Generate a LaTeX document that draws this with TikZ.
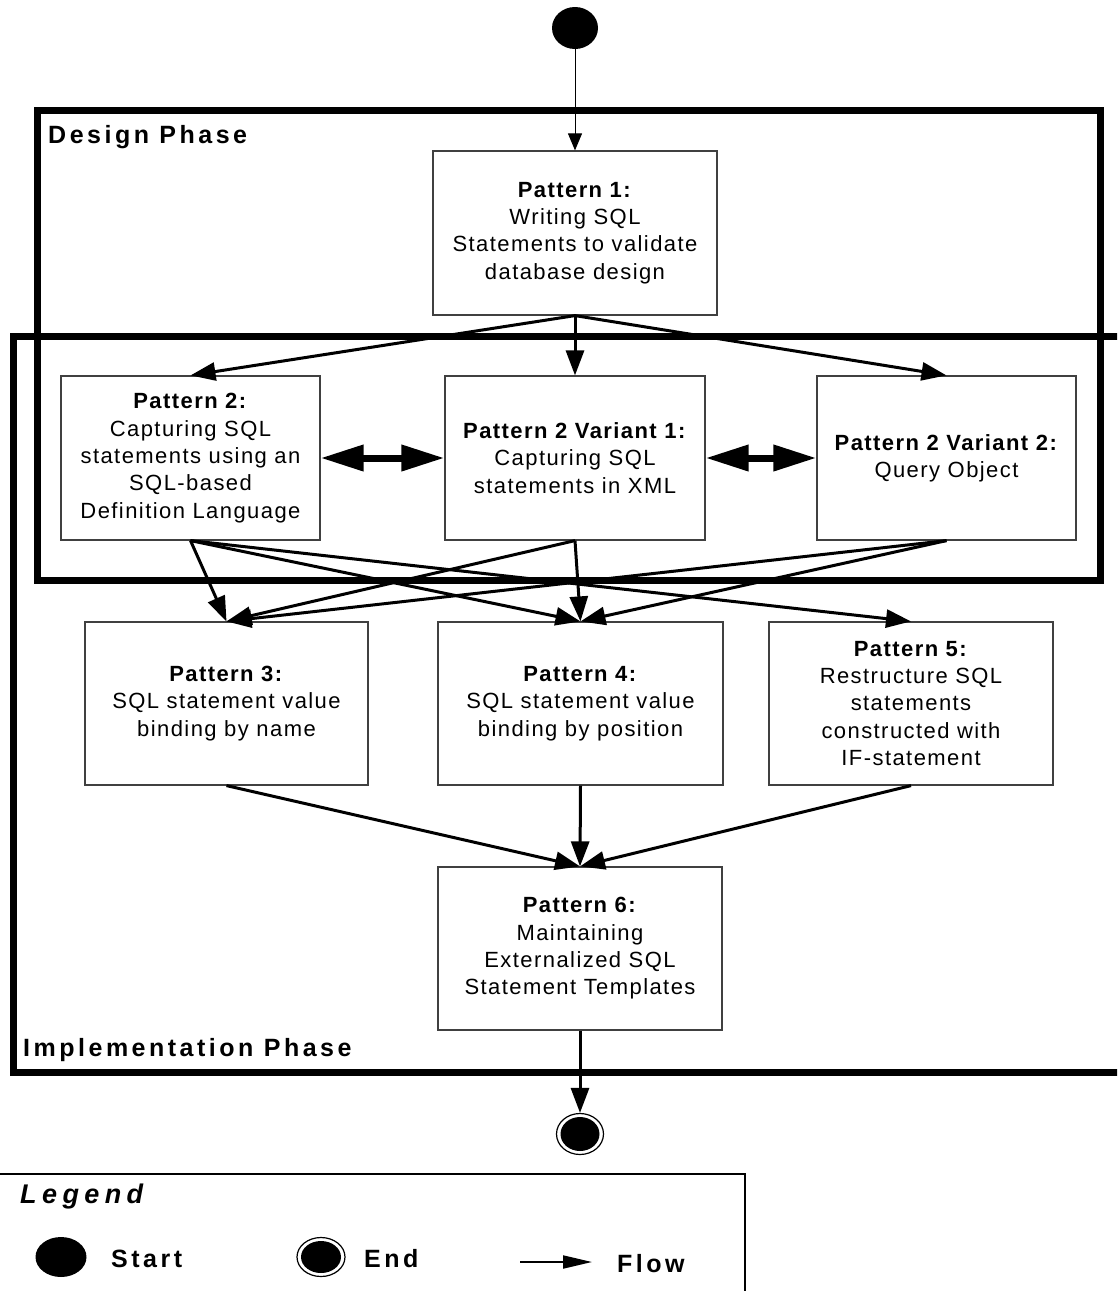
\documentclass[tikz,border=0pt]{standalone}
\usepackage{fontspec}
\setmainfont{Liberation Sans}[LetterSpace=6.5]
\usetikzlibrary{arrows.meta,shapes.geometric}
\begin{document}
\begin{tikzpicture}[x=1pt,y=-1pt,
  pbox/.style={draw=black!75, line width=1.2pt, fill=white, minimum width=#1, minimum height=164pt,
    inner sep=0pt, align=center, font=\fontsize{22}{27.3}\selectfont},
  phaserect/.style={draw=black, line width=7pt},
  phaselabel/.style={anchor=base west, inner sep=0pt, font=\bfseries\fontsize{25}{28}\selectfont\addfontfeature{LetterSpace=14}},
  flowarrow/.style={draw=black, line width=3pt, -{Triangle[length=25pt,width=18pt]}},
  dblarrow/.style={draw=black, line width=7pt, {Triangle[length=43pt,width=25pt]}-{Triangle[length=43pt,width=25pt]}},
  legendtext/.style={anchor=base west, inner sep=0pt, font=\bfseries\fontsize{25}{28}\selectfont\addfontfeature{LetterSpace=14}}
]
\useasboundingbox (0,0) rectangle (1117,1291);
\clip (0,0) rectangle (1117,1291);

% phase frames
\draw[phaserect] (37.5,110) rectangle (1100.5,580);
\draw[phaserect] (13.5,336) rectangle (1140,1072);
\node[phaselabel] (designlbl) at (48,143) {Design Phase};
\node[phaselabel] (impllbl) at (23,1056) {Implementation Phase};

% start / end
\node[ellipse, fill=black, minimum width=46pt, minimum height=42pt, inner sep=0pt] (start) at (575,28) {};
\node[ellipse, draw=black, line width=1.2pt, fill=white, minimum width=47pt, minimum height=41pt, inner sep=0pt] (end) at (580,1134) {};
\fill[black] (end.center) ellipse [x radius=19.5, y radius=17];

% pattern boxes
\node[pbox=284pt] (p1) at (575,233) {\textbf{Pattern 1:}\\Writing SQL\\Statements to validate\\database design};
\node[pbox=259pt] (p2) at (190.5,458) {\textbf{Pattern 2:}\\Capturing SQL\\statements using an\\SQL-based\\Definition Language};
\node[pbox=260pt] (p2a) at (575,458) {\textbf{Pattern 2 Variant 1:}\\Capturing SQL\\statements in XML};
\node[pbox=259pt] (p2b) at (946.5,458) {\textbf{Pattern 2 Variant 2:}\\Query Object};
\node[pbox=283pt, minimum height=163pt] (p3) at (226.5,703.5) {\textbf{Pattern 3:}\\SQL statement value\\binding by name};
\node[pbox=285pt, minimum height=163pt] (p4) at (580.5,703.5) {\textbf{Pattern 4:}\\SQL statement value\\binding by position};
\node[pbox=284pt, minimum height=163pt] (p5) at (911,703.5) {\textbf{Pattern 5:}\\Restructure SQL\\statements\\constructed with\\IF-statement};
\node[pbox=284pt, minimum height=163pt] (p6) at (580,948.5) {\textbf{Pattern 6:}\\Maintaining\\Externalized SQL\\Statement Templates};

% connectors
\draw[line width=1pt, -{Triangle[length=17pt,width=14pt]}] (start.south) -- (p1.north);
\draw[flowarrow] (p1.south) -- (p2.north);
\draw[flowarrow] (p1.south) -- (p2a.north);
\draw[flowarrow] (p1.south) -- (p2b.north);
\draw[dblarrow] (p2.east) -- (p2a.west);
\draw[dblarrow] (p2a.east) -- (p2b.west);
\draw[flowarrow] (p2.south) -- (p3.north);
\draw[flowarrow] (p2.south) -- (p4.north);
\draw[flowarrow] (p2.south) -- (p5.north);
\draw[flowarrow] (p2a.south) -- (p3.north);
\draw[flowarrow] (p2a.south) -- (p4.north);
\draw[flowarrow] (p2b.south) -- (p3.north);
\draw[flowarrow] (p2b.south) -- (p4.north);
\draw[flowarrow] (p3.south) -- (p6.north);
\draw[flowarrow] (p4.south) -- (p6.north);
\draw[flowarrow] (p5.south) -- (p6.north);
\draw[flowarrow] (p6.south) -- (end.north);

% legend
\draw[line width=2pt] (-10,1174) rectangle (745,1320);
\node[anchor=base west, inner sep=0pt, font=\bfseries\itshape\fontsize{27}{30}\selectfont\addfontfeature{LetterSpace=20}] (legendlbl) at (20,1203) {Legend};
\node[ellipse, fill=black, minimum width=51pt, minimum height=40pt, inner sep=0pt] (lstart) at (61,1257) {};
\node[legendtext] (lstarttxt) at (111,1267) {Start};
\node[ellipse, draw=black, line width=1.2pt, fill=white, minimum width=48pt, minimum height=39pt, inner sep=0pt] (lend) at (321,1257) {};
\fill[black] (lend.center) ellipse [x radius=20, y radius=16];
\node[legendtext] (lendtxt) at (364,1267) {End};
\coordinate (lflowa) at (520,1262);
\coordinate (lflowb) at (592,1262);
\draw[line width=2pt, -{Triangle[length=29pt,width=13pt]}] (lflowa) -- (lflowb);
\node[legendtext] (lflowtxt) at (617,1272) {Flow};
\end{tikzpicture}
\end{document}
